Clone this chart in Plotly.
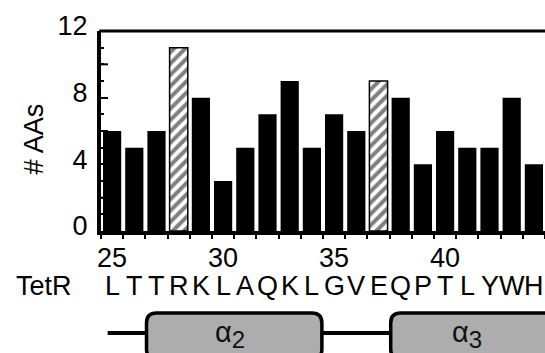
import plotly.graph_objects as go

positions = list(range(25, 45))
counts = [6, 5, 6, 11, 8, 3, 5, 7, 9, 5, 7, 6, 9, 8, 4, 6, 5, 5, 8, 4]
hatched = [28, 37]
residues = list("LTTRKLAQKLGVEQPTLYWH")
helix_names = ["α", "α"]
helix_subs = ["2", "3"]
helix_start = [26.55, 37.55]
helix_end = [34.45, 46.0]
helix_label_x = [30.3, 41.0]
coil_start = 24.8
x_ticks = [25, 30, 35, 40]
y_ticks = [0, 4, 8, 12]
y_even_ticks = [2, 6, 10]

FONT = "Liberation Sans, Arial, sans-serif"
BAR_W = 0.82

solid_x = [p for p in positions if p not in hatched]
solid_y = [c for p, c in zip(positions, counts) if p not in hatched]
hat_x = [p for p in positions if p in hatched]
hat_y = [c for p, c in zip(positions, counts) if p in hatched]

fig = go.Figure()
fig.add_trace(go.Bar(x=solid_x, y=solid_y, width=BAR_W,
                     marker=dict(color="black", line=dict(width=0))))
fig.add_trace(go.Bar(
    x=hat_x, y=hat_y, width=BAR_W,
    marker=dict(color="white", line=dict(color="black", width=1.5),
                pattern=dict(shape="/", fgcolor="black", bgcolor="white", size=8,
                             solidity=0.5, fillmode="overlay")),
))

shapes = []
# top frame line
shapes.append(dict(type="line", xref="paper", yref="paper", x0=-0.004, x1=1, y0=1, y1=1,
                   line=dict(color="black", width=3)))
# longer inside ticks at even values
for v in y_even_ticks:
    shapes.append(dict(type="line", xref="paper", yref="y", x0=0, x1=7 / 444, y0=v, y1=v,
                       line=dict(color="black", width=2)))
# secondary structure
y_line = -0.51
y_top = -0.41
y_bot = -0.64
rx, ry = 0.45, 0.05
seg_starts = [coil_start] + helix_end[:-1]
seg_ends = helix_start
for a, b in zip(seg_starts, seg_ends):
    shapes.append(dict(type="line", xref="x", yref="paper", x0=a, x1=b, y0=y_line, y1=y_line,
                       line=dict(color="black", width=4), layer="above"))
for x0, x1 in zip(helix_start, helix_end):
    path = (f"M {x0+rx},{y_top} L {x1-rx},{y_top} Q {x1},{y_top} {x1},{y_top-ry} "
            f"L {x1},{y_bot+ry} Q {x1},{y_bot} {x1-rx},{y_bot} L {x0+rx},{y_bot} "
            f"Q {x0},{y_bot} {x0},{y_bot+ry} L {x0},{y_top-ry} Q {x0},{y_top} {x0+rx},{y_top} Z")
    shapes.append(dict(type="path", xref="x", yref="paper", path=path,
                       fillcolor="#adadad", line=dict(color="black", width=3.5), layer="above"))

annotations = []
for p, r in zip(positions, residues):
    annotations.append(dict(x=p, y=-0.275, xref="x", yref="paper", text=r, showarrow=False,
                            font=dict(size=27, color="black", family=FONT),
                            xanchor="center", yanchor="middle"))
annotations.append(dict(x=-0.128, y=-0.275, xref="paper", yref="paper", text="TetR",
                        showarrow=False, font=dict(size=27, color="black", family=FONT),
                        xanchor="center", yanchor="middle"))
for name, sub, xc in zip(helix_names, helix_subs, helix_label_x):
    annotations.append(dict(x=xc, y=-0.515, xref="x", yref="paper",
                            text=f"{name}<sub><span style='font-size:24px'>{sub}</span></sub>",
                            showarrow=False,
                            font=dict(size=29, color="#111111", family=FONT),
                            xanchor="center", yanchor="middle"))
annotations.append(dict(x=-0.15, y=0.46, xref="paper", yref="paper", text="# AAs",
                        textangle=-90, showarrow=False,
                        font=dict(size=27, color="black", family=FONT),
                        xanchor="center", yanchor="middle"))

fig.update_layout(
    width=545, height=353,
    margin=dict(l=101, r=0, t=31, b=122),
    paper_bgcolor="white", plot_bgcolor="white",
    barmode="overlay", showlegend=False,
    shapes=shapes, annotations=annotations,
    font=dict(family=FONT, size=27, color="black"),
)
fig.update_xaxes(
    range=[24.5, 44.5], tickvals=x_ticks, ticks="", showline=True, linecolor="black",
    linewidth=4, showgrid=False, zeroline=False, tickfont=dict(size=27, color="black"),
    ticklabelstandoff=0,
    minor=dict(ticks="outside", tick0=24.5, dtick=1, ticklen=4, tickwidth=1.5,
               tickcolor="black", showgrid=False),
)
fig.update_yaxes(
    range=[0, 12], tickvals=y_ticks, ticks="inside", ticklen=7,
    tickwidth=2, tickcolor="black", showline=True, linecolor="black", linewidth=4,
    showgrid=False, zeroline=False, tickfont=dict(size=27, color="black"),
    ticklabelstandoff=4, ticklabelshift=-5,
    minor=dict(ticks="inside", dtick=1, ticklen=3, tickwidth=1.5, tickcolor="black",
               showgrid=False),
)

fig.write_html("out.html")
